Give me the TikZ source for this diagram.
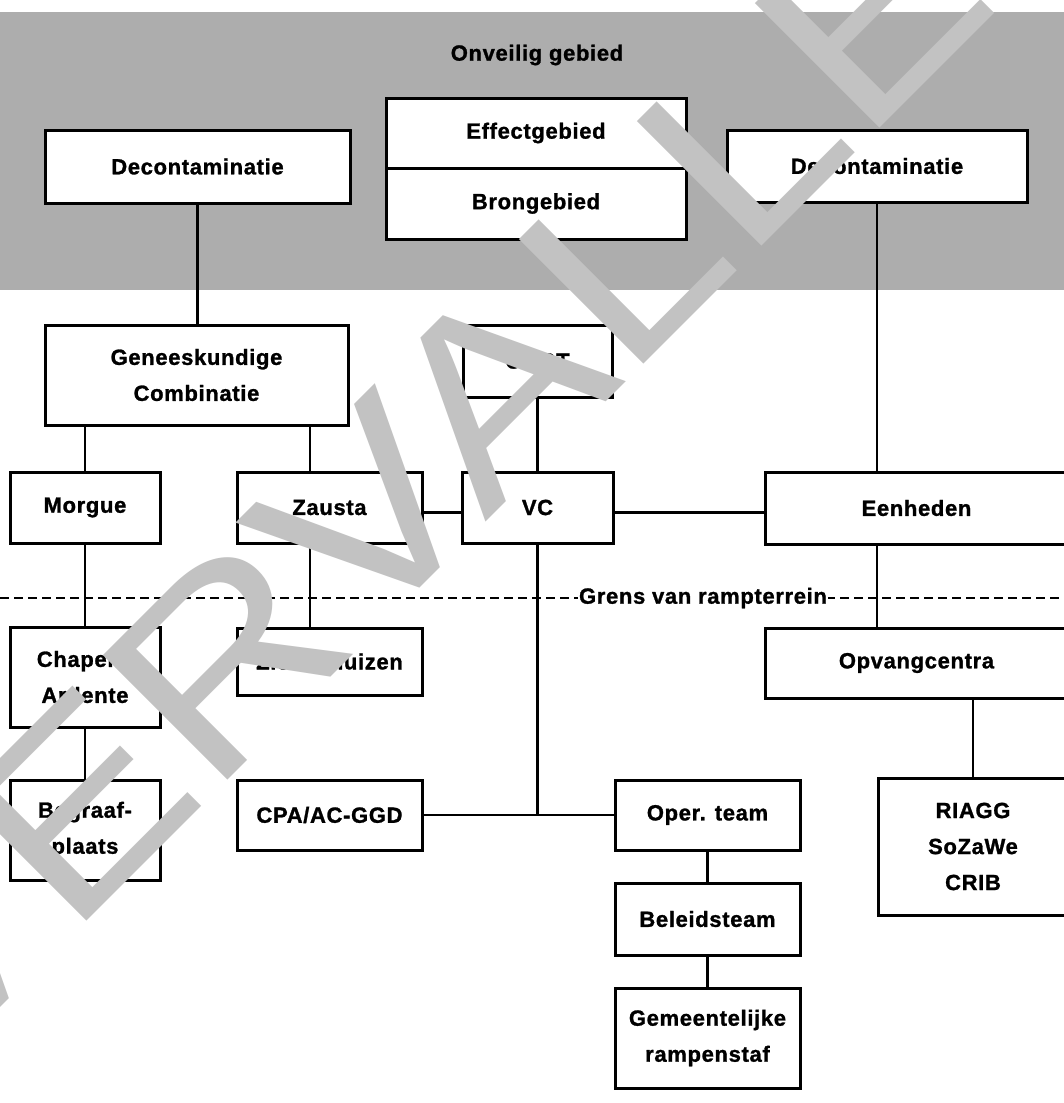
\documentclass[tikz,border=0pt]{standalone}
\usepackage{fontspec}
\newfontfamily\dfont[LetterSpace=3, BoldFeatures={FakeBold=1.2}]{Liberation Sans}
\newfontfamily\wmfont{Liberation Sans}
\definecolor{bggray}{gray}{0.68}
\definecolor{wmgray}{gray}{0.76}
\tikzset{
  box/.style={draw=black, line width=3pt, fill=white, rectangle, align=center, inner sep=0pt,
    font=\dfont\bfseries\fontsize{22}{36}\selectfont},
  link/.style={draw=black, line width=2.6pt},
  border/.style={draw=black, line width=2.2pt, dash pattern=on 9pt off 5pt},
}
\begin{document}
\begin{tikzpicture}[x=1pt,y=-1pt]
\useasboundingbox (0,0) rectangle (1064,1103);
\clip (0,0) rectangle (1064,1103);
\fill[white] (0,0) rectangle (1064,1103);
% unsafe area
\fill[bggray] (0,12) rectangle (1064,290);
\node[font=\dfont\bfseries\fontsize{22}{26}\selectfont, inner sep=0pt] (onv) at (537,55) {Onveilig gebied};

% boxes
\node[box, minimum width=305pt, minimum height=73pt] (decL) at (197.5,166.5) {Decontaminatie};
\node[box, minimum width=300pt, minimum height=70pt] (eff) at (536,133) {Effectgebied};
\node[box, minimum width=300pt, minimum height=71pt] (bron) at (536,203.5) {Brongebied};
\node[box, minimum width=300pt, minimum height=72pt] (decR) at (877,166) {Decontaminatie};
\node[box, minimum width=303pt, minimum height=100pt] (gc) at (196.5,375) {Geneeskundige\\Combinatie};
\node[box, minimum width=149pt, minimum height=72pt] (cort) at (537.5,361) {CORT};
\node[box, minimum width=150pt, minimum height=71pt] (morgue) at (85,507.5) {Morgue};
\node[box, minimum width=185pt, minimum height=71pt] (zaus) at (329.5,507.5) {Zausta};
\node[box, minimum width=151pt, minimum height=71pt] (vc) at (537.5,507.5) {VC};
\node[box, minimum width=303pt, minimum height=72pt] (eenh) at (916.5,508) {Eenheden};
\node[box, minimum width=150pt, minimum height=100pt] (chap) at (85,677) {Chapelle\\Ardente};
\node[box, minimum width=185pt, minimum height=67pt] (zieken) at (329.5,661.5) {Ziekenhuizen};
\node[box, minimum width=303pt, minimum height=70pt] (opvang) at (916.5,663) {Opvangcentra};
\node[box, minimum width=150pt, minimum height=100pt] (begr) at (85,830) {Begraaf-\\plaats};
\node[box, minimum width=185pt, minimum height=70pt] (cpa) at (329.5,815) {CPA/AC-GGD};
\node[box, minimum width=185pt, minimum height=70pt] (oper) at (707.5,815) {Oper. team};
\node[box, minimum width=185pt, minimum height=72pt] (bel) at (707.5,919) {Beleidsteam};
\node[box, minimum width=185pt, minimum height=100pt] (gem) at (707.5,1038) {Gemeentelijke\\rampenstaf};
\node[box, minimum width=190pt, minimum height=137pt] (riagg) at (973,846.5) {RIAGG\\SoZaWe\\CRIB};

% border of disaster area
\coordinate (bl) at (0,598);
\coordinate (br) at (1064,598);
\draw[border] (bl) -- (br);
\node[fill=white, inner xsep=1pt, inner ysep=2pt, font=\dfont\bfseries\fontsize{22}{26}\selectfont] (grens) at (703,598) {Grens van rampterrein};

% connectors
\draw[link] (decL.south) -- (decL.south |- gc.north);
\draw[link] (morgue.north |- gc.south) -- (morgue.north);
\draw[link] ([xshift=-19.5pt]zaus.north |- gc.south) -- ([xshift=-19.5pt]zaus.north);
\draw[link] (morgue.south) -- (chap.north);
\draw[link] (chap.south) -- (begr.north);
\draw[link] ([xshift=-19.5pt]zaus.south) -- ([xshift=-19.5pt]zieken.north);
\draw[link] ([yshift=-5pt]zaus.east) -- ([yshift=-5pt]vc.west);
\draw[link] (cort.south) -- (vc.north);
\draw[link] ([yshift=-5pt]vc.east) -- ([yshift=-5pt]vc.east -| eenh.west);
\draw[link] (decR.south) -- (decR.south |- eenh.north);
\draw[link] (decR.south |- eenh.south) -- (decR.south |- opvang.north);
\draw[link] (riagg.north |- opvang.south) -- (riagg.north);
\coordinate (j) at (vc.south |- cpa.east);
\draw[link] (vc.south) -- (j);
\draw[link] (cpa.east) -- (oper.west);
\draw[link] (oper.south) -- (bel.north);
\draw[link] (bel.south) -- (gem.north);

% watermark
\node[rotate=45, xscale=1.17, anchor=base west, inner sep=0pt, text=wmgray,
  font=\wmfont\fontsize{256}{260}\selectfont] (wm) at (-72,1080) {VERVALLEN};
\end{tikzpicture}
\end{document}
